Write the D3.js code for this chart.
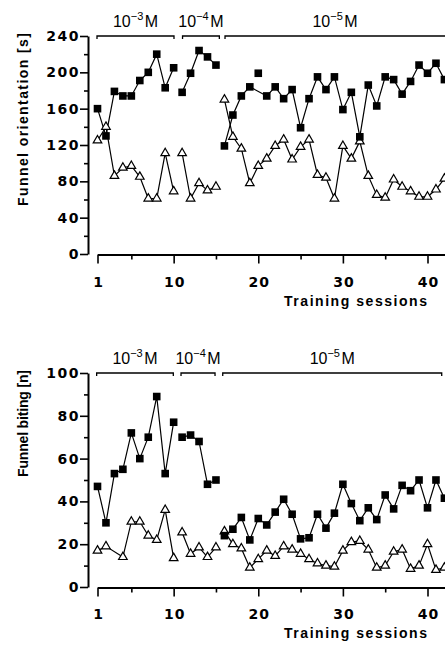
<!DOCTYPE html>
<html><head><meta charset="utf-8">
<script src="https://cdn.jsdelivr.net/npm/d3@7"></script>
<style>body{margin:0;background:#fff}svg{display:block}</style>
</head><body>
<svg id="c" width="445" height="645"></svg>
<script>
// ---------------- data ----------------
const sessions = d3.range(1, 43);
const groupRanges = [[1, 10], [11, 15], [16, 42]];
const concExponents = ["\u22123", "\u22124", "\u22125"];

const orientSquares = [160,130,179,174,174,191,200,220,183,205,
  178,199,224,217,208,
  119,153,174,184,199,174,184,171,181,139,171,195,181,195,159,178,129,186,163,195,192,176,190,208,199,210,192];
const orientSquaresOffLine = [20];
const orientTriangles = [125,140,86,95,97,85,61,61,111,69,
  111,61,78,70,74,
  170,129,116,78,97,105,119,126,104,118,126,87,84,61,119,105,124,86,65,62,82,74,69,63,63,71,83];

const bitingSquares = [47,30,53,55,72,60,70,89,53,77,
  70,71,68,48,50,
  24,27,32.5,22,32,29,35,41,34,22.5,23,34,27.5,34.5,48,39,31,37,31.5,43,36.5,47.5,45,50,37,50,41.5];
const bitingTriangles = [17,19,null,14,30.5,30.5,24,22,36,13.5,
  25.5,15.5,18.5,14,18.5,
  26,20,18,9,13,17,14.5,19,17.5,15.5,13,11,10,9.5,17,21,21.5,17.5,9,10,16.5,17.5,8.5,10,20,8,9];

const xMajorTicks = [1, 10, 20, 30, 40];
const xMinorTicks = [5, 15, 25, 35];
const orientTicks = [0, 40, 80, 120, 160, 200, 240];
const orientMinorTicks = [20, 60, 100, 140, 180, 220];
const bitingTicks = [0, 20, 40, 60, 80, 100];
const bitingMinorTicks = [10, 30, 50, 70, 90];
const orientBrackets = [[0.94, 10.04], [11.05, 15.4], [16.07, 42.6]];
const bitingBrackets = [[0.9, 9.96], [10.87, 14.89], [15.8, 41.68]];
const xTitle = "Training sessions";

// ---------------- drawing ----------------
const svg = d3.select("#c");
const x = d3.scaleLinear().domain([1, 40]).range([97.5, 427.5]);
const yAxisX = 88;
const numFont = "'DejaVu Sans', sans-serif";
const txtFont = "'Liberation Sans', Arial, sans-serif";

function drawPanel(p) {
  const y = d3.scaleLinear().domain(p.yDomain).range(p.yRange);
  const g = svg.append("g");
  const axisY = p.yRange[0] + 0.5;

  // y axis
  const ya = g.append("g").attr("transform", `translate(${yAxisX},0)`)
    .call(d3.axisLeft(y).tickValues(p.ticks).tickSize(8).tickSizeOuter(0).tickPadding(0));
  ya.attr("font-family", numFont).attr("font-size", 14).attr("font-weight", "bold");
  ya.select(".domain").attr("stroke-width", 2);
  ya.selectAll(".tick line").attr("stroke-width", 1.6);
  ya.selectAll(".tick text").attr("letter-spacing", 1.5).attr("fill", "#000");
  const ym = g.append("g").attr("transform", `translate(${yAxisX},0)`)
    .call(d3.axisLeft(y).tickValues(p.minorTicks).tickSize(4).tickFormat(""));
  ym.select(".domain").remove();
  ym.selectAll(".tick line").attr("stroke-width", 1.6);

  // x axis
  const xEnd = 42.3;
  const xs = x.copy().domain([1, xEnd]).range([x(1), x(xEnd)]);
  const xa = g.append("g").attr("transform", `translate(0,${axisY})`)
    .call(d3.axisBottom(xs).tickValues(xMajorTicks).tickSize(9).tickSizeOuter(0));
  xa.attr("font-family", numFont).attr("font-size", 14).attr("font-weight", "bold");
  xa.select(".domain").attr("stroke-width", 2);
  xa.selectAll(".tick line").attr("stroke-width", 1.6);
  xa.selectAll(".tick text").attr("y", p.xLabelOffset).attr("dy", 0)
    .attr("letter-spacing", 1).attr("dx", 0.5).attr("fill", "#000");
  const xm = g.append("g").attr("transform", `translate(0,${axisY})`)
    .call(d3.axisBottom(xs).tickValues(xMinorTicks).tickSize(5).tickFormat(""));
  xm.select(".domain").remove();
  xm.selectAll(".tick line").attr("stroke-width", 1.6);

  // axis titles
  g.append("text")
    .attr("transform", `translate(28,${p.yRange[1] - 3}) rotate(-90)`)
    .attr("text-anchor", "end")
    .attr("font-family", txtFont).attr("font-weight", "bold").attr("font-size", 14)
    .attr("textLength", p.yTitleLen).attr("lengthAdjust", "spacing")
    .text(p.yTitle);
  g.append("text")
    .attr("x", 284).attr("y", axisY + p.xTitleOffset)
    .attr("font-family", txtFont).attr("font-weight", "bold").attr("font-size", 14)
    .attr("textLength", 143).attr("lengthAdjust", "spacing")
    .text(xTitle);

  // concentration brackets
  const by = p.yRange[1];
  p.brackets.forEach((b, i) => {
    const x0 = x(b[0]), x1 = x(b[1]);
    g.append("path")
      .attr("d", `M${x0},${by + 3}V${by}H${x1}V${by + 3}`)
      .attr("fill", "none").attr("stroke", "#000").attr("stroke-width", 1.3);
    const t = g.append("text")
      .attr("x", (x0 + Math.min(x1, 445)) / 2).attr("y", by - 9.5)
      .attr("text-anchor", "middle")
      .attr("font-family", txtFont).attr("font-size", 16);
    t.append("tspan").text("10");
    t.append("tspan").attr("font-size", 11).attr("dy", -6.5).text(concExponents[i]);
    t.append("tspan").attr("dy", 6.5).attr("dx", 1.5).text("M");
  });

  // series
  const line = d3.line().x(d => x(d.s)).y(d => y(d.v));
  function series(values, skip) {
    return sessions.map((s, i) => ({ s, v: values[i] })).filter(d => d.v != null);
  }
  const sq = series(p.squares);
  const tr = series(p.triangles);
  groupRanges.forEach(r => {
    const segS = sq.filter(d => d.s >= r[0] && d.s <= r[1] && !p.squaresOffLine.includes(d.s));
    const segT = tr.filter(d => d.s >= r[0] && d.s <= r[1]);
    g.append("path").attr("d", line(segS)).attr("fill", "none").attr("stroke", "#000").attr("stroke-width", 1.2);
    g.append("path").attr("d", line(segT)).attr("fill", "none").attr("stroke", "#000").attr("stroke-width", 1.2);
  });
  g.selectAll(null).data(tr).join("path")
    .attr("transform", d => `translate(${x(d.s)},${y(d.v)})`)
    .attr("d", d3.symbol(d3.symbolTriangle, 32))
    .attr("fill", "#fff").attr("stroke", "#000").attr("stroke-width", 1.2);
  g.selectAll(null).data(sq).join("rect")
    .attr("x", d => x(d.s) - 3.8).attr("y", d => y(d.v) - 3.8)
    .attr("width", 7.6).attr("height", 7.6).attr("fill", "#000");
}

drawPanel({
  yDomain: [0, 240], yRange: [254, 36], ticks: orientTicks, minorTicks: orientMinorTicks,
  squares: orientSquares, squaresOffLine: orientSquaresOffLine, triangles: orientTriangles,
  brackets: orientBrackets, yTitle: "Funnel orientation [s]", yTitleLen: 173,
  xLabelOffset: 32, xTitleOffset: 51
});
drawPanel({
  yDomain: [0, 100], yRange: [587, 373], ticks: bitingTicks, minorTicks: bitingMinorTicks,
  squares: bitingSquares, squaresOffLine: [], triangles: bitingTriangles,
  brackets: bitingBrackets, yTitle: "Funnel biting [n]", yTitleLen: 107,
  xLabelOffset: 31, xTitleOffset: 50
});
</script>
</body></html>
